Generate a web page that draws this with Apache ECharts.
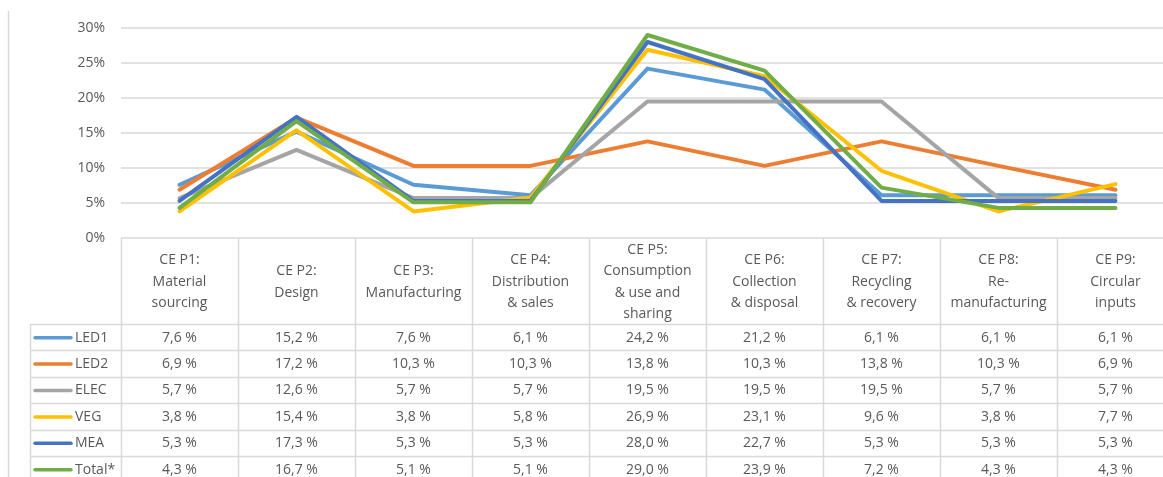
<!DOCTYPE html>
<html>
<head>
<meta charset="utf-8">
<script src="https://cdn.jsdelivr.net/npm/echarts@6/dist/echarts.min.js"></script>
<style>
  html, body { margin: 0; padding: 0; background: #ffffff; }
  #chart { width: 1163px; height: 477px; }
</style>
</head>
<body>
<div id="chart"></div>
<script>
// Phases of the circular economy (header of the data table)
const categories = [
  'CE P1:\nMaterial\nsourcing',
  'CE P2:\nDesign',
  'CE P3:\nManufacturing',
  'CE P4:\nDistribution\n& sales',
  'CE P5:\nConsumption\n& use and\nsharing',
  'CE P6:\nCollection\n& disposal',
  'CE P7:\nRecycling\n& recovery',
  'CE P8:\nRe-\nmanufacturing',
  'CE P9:\nCircular\ninputs'
];

// Share per phase, in percent
const led1  = [7.6, 15.2, 7.6, 6.1, 24.2, 21.2, 6.1, 6.1, 6.1];
const led2  = [6.9, 17.2, 10.3, 10.3, 13.8, 10.3, 13.8, 10.3, 6.9];
const elec  = [5.7, 12.6, 5.7, 5.7, 19.5, 19.5, 19.5, 5.7, 5.7];
const veg   = [3.8, 15.4, 3.8, 5.8, 26.9, 23.1, 9.6, 3.8, 7.7];
const mea   = [5.3, 17.3, 5.3, 5.3, 28.0, 22.7, 5.3, 5.3, 5.3];
const total = [4.3, 16.7, 5.1, 5.1, 29.0, 23.9, 7.2, 4.3, 4.3];

const seriesNames = ['LED1', 'LED2', 'ELEC', 'VEG', 'MEA', 'Total*'];
const seriesData  = [led1, led2, elec, veg, mea, total];
const seriesColors = ['#5B9BD5', '#ED7D31', '#A5A5A5', '#FFC000', '#4472C4', '#70AD47'];

const yMin = 0, yMax = 30, yStep = 5;

const FONT = '"Open Sans", "Liberation Sans", sans-serif';
const TEXT_COLOR = '#595959';
const RULE_COLOR = '#d9d9d9';

const chart = echarts.init(document.getElementById('chart'), null, { renderer: 'canvas' });

chart.setOption({
  animation: false,
  backgroundColor: '#ffffff',
  grid: {
    left: 121, top: 28, height: 210, width: 1053,
    containLabel: false,
    outerBoundsMode: 'none'
  },
  xAxis: {
    type: 'category',
    data: categories,
    boundaryGap: true,
    axisLine: { show: false },
    axisTick: { show: false },
    axisLabel: { show: false },
    splitLine: { show: false }
  },
  yAxis: {
    type: 'value',
    min: yMin, max: yMax, interval: yStep,
    axisLine: { show: false },
    axisTick: { show: false },
    axisLabel: {
      formatter: '{value}%',
      color: TEXT_COLOR,
      fontFamily: FONT,
      fontSize: 14,
      margin: 16
    },
    splitLine: { lineStyle: { color: RULE_COLOR, width: 1.5 } }
  },
  series: seriesNames.map((name, i) => ({
    name: name,
    type: 'line',
    data: seriesData[i],
    symbol: 'none',
    color: seriesColors[i],
    lineStyle: { width: 4, color: seriesColors[i], cap: 'round', join: 'round' },
    z: 2 + i
  }))
});

// Data table drawn under the plot, aligned with the category axis
function fmt(v) { return v.toFixed(1).replace('.', ',') + ' %'; }

const x0 = chart.convertToPixel({ xAxisIndex: 0 }, 0);
const x1 = chart.convertToPixel({ xAxisIndex: 0 }, 1);
const band = x1 - x0;
const tableTop = chart.convertToPixel({ yAxisIndex: 0 }, yMin);
const headerBottom = 324;
const rowH = 26.4;
const keyLeft = 30;
const bottom = 520;
const gridLeft = x0 - band / 2;

const g = [];
function line(xa, ya, xb, yb) {
  g.push({ type: 'line', silent: true, z: 1,
    shape: { x1: xa, y1: ya, x2: xb, y2: yb },
    style: { stroke: RULE_COLOR, lineWidth: 1.5 } });
}

// outer frame line on the left
line(8.5, 11, 8.5, bottom);

// column separators
for (let k = 0; k <= categories.length; k++) {
  const x = Math.round(gridLeft + k * band) + 0.5;
  line(x, tableTop, x, bottom);
}
line(keyLeft + 0.5, headerBottom, keyLeft + 0.5, bottom);

// row separators
for (let r = 0; r <= seriesNames.length; r++) {
  const y = Math.round(headerBottom + r * rowH) + 0.5;
  line(keyLeft, y, 1200, y);
}

// header cells
categories.forEach((c, i) => {
  const cx = chart.convertToPixel({ xAxisIndex: 0 }, i);
  g.push({ type: 'text', silent: true, z: 5,
    style: { text: c, x: cx, y: (tableTop + headerBottom) / 2 + 1,
      align: 'center', verticalAlign: 'middle',
      fontFamily: FONT, fontSize: 14, lineHeight: 21.5, fill: TEXT_COLOR } });
});

// series rows: legend key + values
seriesNames.forEach((name, r) => {
  const cy = headerBottom + r * rowH + rowH / 2 + 0.5;
  g.push({ type: 'line', silent: true, z: 5,
    shape: { x1: 35, y1: cy, x2: 71, y2: cy },
    style: { stroke: seriesColors[r], lineWidth: 3.5, lineCap: 'round' } });
  g.push({ type: 'text', silent: true, z: 5,
    style: { text: name, x: 75, y: cy, align: 'left', verticalAlign: 'middle',
      fontFamily: FONT, fontSize: 14, fill: TEXT_COLOR } });
  seriesData[r].forEach((v, i) => {
    const cx = chart.convertToPixel({ xAxisIndex: 0 }, i);
    g.push({ type: 'text', silent: true, z: 5,
      style: { text: fmt(v), x: cx, y: cy, align: 'center', verticalAlign: 'middle',
        fontFamily: FONT, fontSize: 14, fill: TEXT_COLOR } });
  });
});

chart.setOption({ graphic: { elements: g } });
</script>
</body>
</html>
